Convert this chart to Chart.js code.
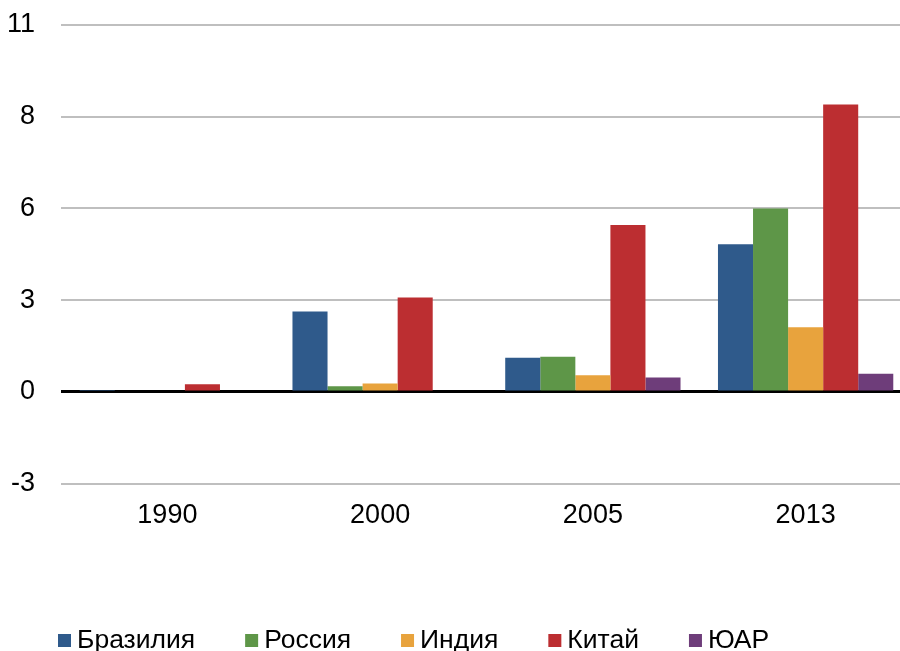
<!DOCTYPE html>
<html>
<head>
<meta charset="utf-8">
<script src="https://cdn.jsdelivr.net/npm/chart.js@4"></script>
<style>
  html, body { margin: 0; padding: 0; background: #fff; overflow: hidden; }
  #wrap { position: absolute; left: 0; top: 0; width: 912px; height: 651px; }
</style>
</head>
<body>
<div id="wrap"><canvas id="myChart"></canvas></div>
<script>
// DATA
const years = ["1990", "2000", "2005", "2013"];
const countries = ["Бразилия", "Россия", "Индия", "Китай", "ЮАР"];
const brazil = [0.06, 2.41, 1.02, 4.43];
const russia = [0, 0.17, 1.05, 5.5];
const india = [0, 0.25, 0.5, 1.94];
const china = [0.23, 2.83, 5.0, 8.62];
const southAfrica = [0, 0.04, 0.43, 0.54];
const yTicks = [-2.75, 0, 2.75, 5.5, 8.25, 11];

const barColors = [
  "#2f5a8b",
  "#5e9648",
  "#e8a33d",
  "#bc2e31",
  "#6e3d7a",
];
const series = [brazil, russia, india, china, southAfrica];

const font = "'Liberation Sans', Arial, sans-serif";

// legend drawn by hand, small gap between box and text
const bottomLegend = {
  id: "bottomLegend",
  afterDraw(chart) {
    const ctx = chart.ctx;
    ctx.save();
    ctx.font = "26.5px " + font;
    ctx.textBaseline = "alphabetic";
    let x = 58;
    chart.data.datasets.forEach(function (ds) {
      ctx.fillStyle = ds.backgroundColor;
      ctx.fillRect(x, 634, 13, 13);
      ctx.fillStyle = "#000";
      ctx.fillText(ds.label, x + 19, 648);
      x += 19 + ctx.measureText(ds.label).width + 50;
    });
    ctx.restore();
  }
};

new Chart("myChart", {
  type: "bar",
  data: {
    labels: years,
    datasets: countries.map(function (name, i) {
      return {
        label: name,
        data: series[i],
        backgroundColor: barColors[i],
        borderWidth: 0,
        barPercentage: 1,
        categoryPercentage: 0.824
      };
    })
  },
  plugins: [bottomLegend],
  options: {
    responsive: true,
    maintainAspectRatio: false,
    animation: false,
    layout: { padding: { left: 0, top: 25, right: 0, bottom: 103 } },
    plugins: {
      legend: { display: false },
      tooltip: { enabled: false }
    },
    scales: {
      x: {
        grid: { display: false, drawTicks: false },
        border: { display: false },
        ticks: { color: "#000", font: { family: font, size: 27 }, padding: 16 }
      },
      y: {
        min: yTicks[0],
        max: yTicks[yTicks.length - 1],
        afterBuildTicks(axis) {
          axis.ticks = yTicks.map(function (v) { return { value: v }; });
        },
        afterFit(axis) {
          axis.width = 61;
          axis.paddingTop = 0;
          axis.paddingBottom = 0;
        },
        grid: {
          drawTicks: false,
          color: function (c) { return c.tick && c.tick.value === 0 ? "#000" : "#bfbfbf"; },
          lineWidth: function (c) { return c.tick && c.tick.value === 0 ? 3 : 2; }
        },
        border: { display: false },
        ticks: {
          color: "#000",
          font: { family: font, size: 27 },
          padding: 26,
          callback: function (v) { return Math.round(v); }
        }
      }
    }
  }
});
</script>
</body>
</html>
